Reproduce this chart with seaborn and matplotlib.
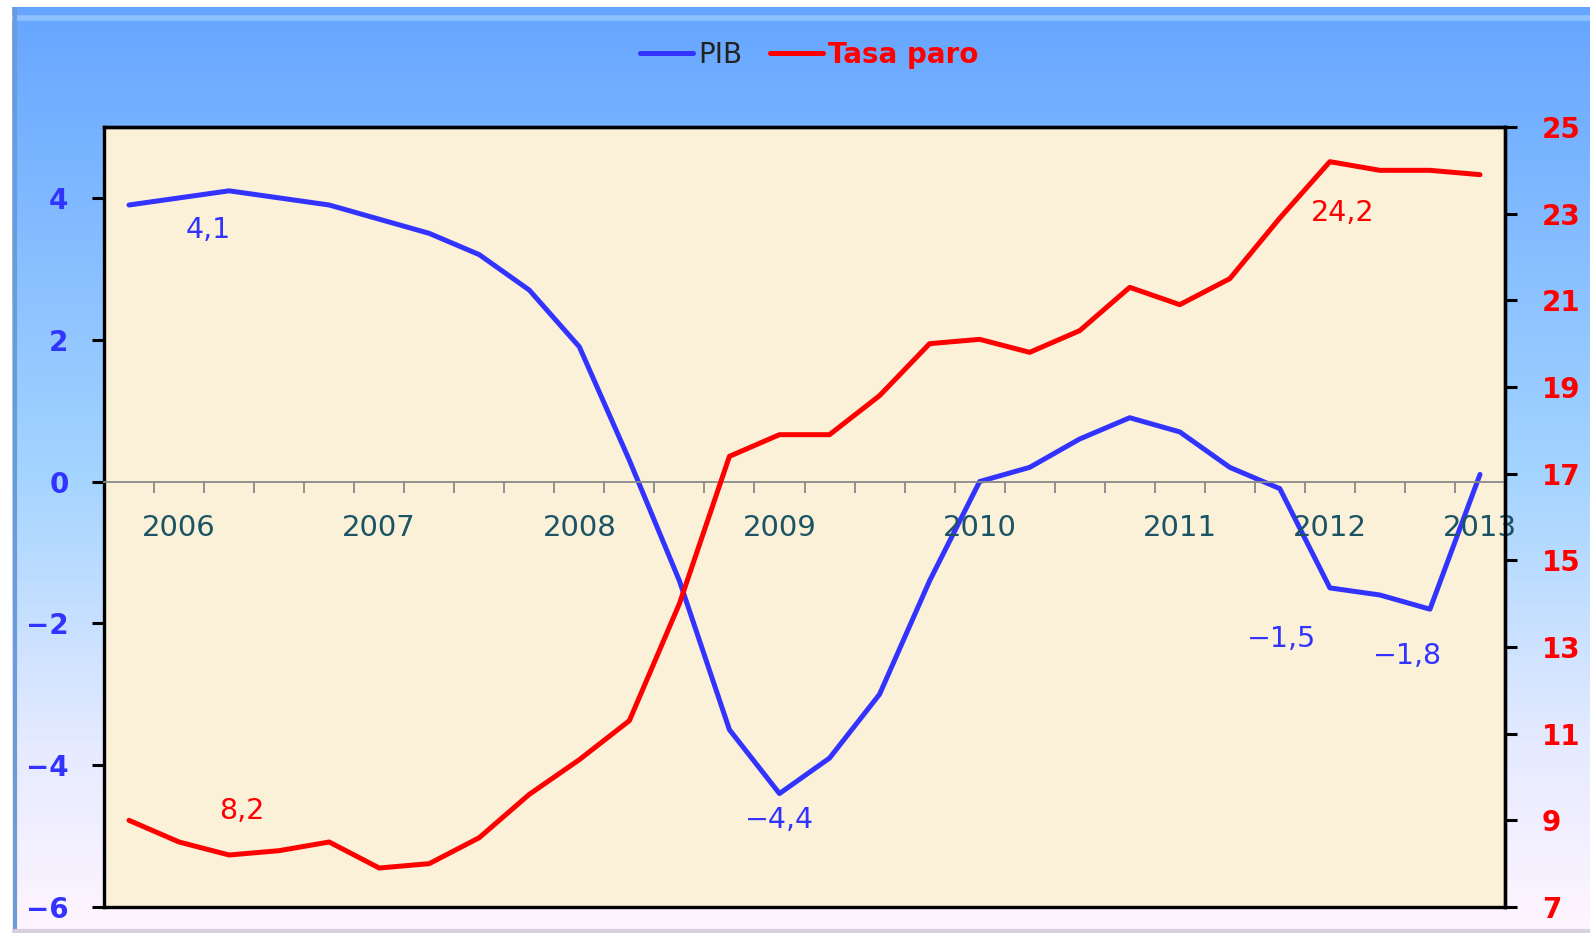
import numpy as np
import matplotlib
matplotlib.use("Agg")
import matplotlib.pyplot as plt
from matplotlib.lines import Line2D
from matplotlib.colors import LinearSegmentedColormap
import seaborn as sns

# trimestres (2006 T1 ... 2012 T4)
trimestres = list(range(28))
pib = [3.9, 4.0, 4.1, 4.0, 3.9, 3.7, 3.5, 3.2, 2.7, 1.9, 0.3, -1.4, -3.5, -4.4,
       -3.9, -3.0, -1.4, 0.0, 0.2, 0.6, 0.9, 0.7, 0.2, -0.1, -1.5, -1.6, -1.8, 0.1]
paro = [9.0, 8.5, 8.2, 8.3, 8.5, 7.9, 8.0, 8.6, 9.6, 10.4, 11.3, 14.0, 17.4, 17.9,
        17.9, 18.8, 20.0, 20.1, 19.8, 20.3, 21.3, 20.9, 21.5, 22.9, 24.2, 24.0, 24.0, 23.9]

year_labels = ['2006', '2007', '2008', '2009', '2010', '2011', '2012', '2013']
year_pos = [1, 5, 9, 13, 17, 21, 24, 27]

left_ticks = [-6, -4, -2, 0, 2, 4]
left_labels = ['−6', '−4', '−2', '0', '2', '4']
right_ticks = [7, 9, 11, 13, 15, 17, 19, 21, 23, 25]
right_labels = [str(t) for t in right_ticks]

# etiquetas de datos: (indice, texto)
pib_notes = [(2, '4,1'), (13, '−4,4'), (24, '−1,5'), (26, '−1,8')]
paro_notes = [(2, '8,2'), (24, '24,2')]

AZUL = '#3333FF'
ROJO = '#FF0000'

sns.set_style("white")
plt.rcParams['font.family'] = ['DejaVu Sans']

fig = plt.figure(figsize=(15.9, 9.41), dpi=100)
fig.patch.set_facecolor('white')

# fondo degradado
bg = fig.add_axes([12 / 1590, 8 / 941, 1578 / 1590, 926 / 941])
cmap = LinearSegmentedColormap.from_list('fondo', [
    (0.0, (0.40, 0.65, 1.0)),
    (0.5, (0.64, 0.83, 1.0)),
    (0.8, (0.90, 0.92, 1.0)),
    (1.0, (1.0, 0.96, 1.0))])
bg.imshow(np.linspace(0, 1, 256).reshape(-1, 1), aspect='auto', cmap=cmap,
          extent=[0, 1, 0, 1], origin='upper')
bg.plot([0, 1], [0.988, 0.988], color='#8EC2FF', lw=4, solid_capstyle='butt')
bg.plot([0.002, 0.002], [0, 1], color='#6E9AD6', lw=3)
bg.plot([0, 1], [0.002, 0.002], color='#D8D0DC', lw=3)
bg.set_xlim(0, 1)
bg.set_ylim(0, 1)
bg.axis('off')

ax = fig.add_axes([104 / 1590, 1 - 907 / 941, 1401 / 1590, 780 / 941])
ax.set_facecolor('#FBF0D8')
ax2 = ax.twinx()

sns.lineplot(x=trimestres, y=pib, ax=ax, color=AZUL, lw=3.6)
sns.lineplot(x=trimestres, y=paro, ax=ax2, color=ROJO, lw=3.6)

ax.set_xlim(-0.5, 27.5)
ax.set_ylim(-6, 5)
ax2.set_ylim(7, 25)

# eje x en el cero
ax.spines['bottom'].set_position(('data', 0))
ax.spines['bottom'].set_color('#8A8A8A')
ax.spines['bottom'].set_linewidth(1.3)
ax.set_xticks(np.arange(-0.5, 28, 1))
ax.set_xticklabels([])
ax.tick_params(axis='x', direction='out', length=8, width=1.3, color='#8A8A8A', bottom=True)
for p, lab in zip(year_pos, year_labels):
    ax.text(p, -0.66, lab, ha='center', va='center', fontsize=21, color='#1B5464')

ax.set_yticks(left_ticks)
ax.set_yticklabels(left_labels)
ax.tick_params(axis='y', direction='out', length=8.5, width=2.2, color='black',
               labelcolor=AZUL, labelsize=20, pad=17, left=True)
for lab in ax.get_yticklabels():
    lab.set_fontweight('bold')

ax2.set_yticks(right_ticks)
ax2.set_yticklabels(right_labels)
ax2.tick_params(axis='y', direction='out', length=8.5, width=2.2, color='black',
                labelcolor=ROJO, labelsize=20, pad=18, right=True)
for lab in ax2.get_yticklabels():
    lab.set_fontweight('bold')

for s in ['left', 'top', 'right']:
    ax.spines[s].set_color('black')
    ax.spines[s].set_linewidth(2.4)
for s in ['bottom', 'right', 'top']:
    ax2.spines[s].set_color('black')
    ax2.spines[s].set_linewidth(2.4)
ax2.spines['left'].set_visible(False)
ax.set_ylabel('')
ax2.set_ylabel('')

# etiquetas de datos
pib_off = {2: (-15, -28), 13: (0, -19), 24: (-35, -37), 26: (-16, -34)}
paro_off = {2: (9, 32), 24: (9, -37)}
for i, t in pib_notes:
    ax.annotate(t, (trimestres[i], pib[i]), xytext=pib_off[i], textcoords='offset points',
                ha='center', va='center', fontsize=20.5, color=AZUL)
for i, t in paro_notes:
    ax2.annotate(t, (trimestres[i], paro[i]), xytext=paro_off[i], textcoords='offset points',
                 ha='center', va='center', fontsize=20.5, color=ROJO)

# leyenda
handles = [Line2D([], [], color=AZUL, lw=3.6, solid_capstyle='round'),
           Line2D([], [], color=ROJO, lw=3.6, solid_capstyle='round')]
leg = fig.legend(handles, ['PIB', 'Tasa paro'], loc='center', bbox_to_anchor=(0.509, 0.942),
                 ncol=2, frameon=False, fontsize=20, handlelength=1.9, handletextpad=0.2,
                 columnspacing=1.0, borderpad=0)
leg.get_texts()[0].set_color('#222222')
leg.get_texts()[1].set_color(ROJO)
leg.get_texts()[1].set_fontweight('bold')

fig.savefig('out.png', dpi=100)
